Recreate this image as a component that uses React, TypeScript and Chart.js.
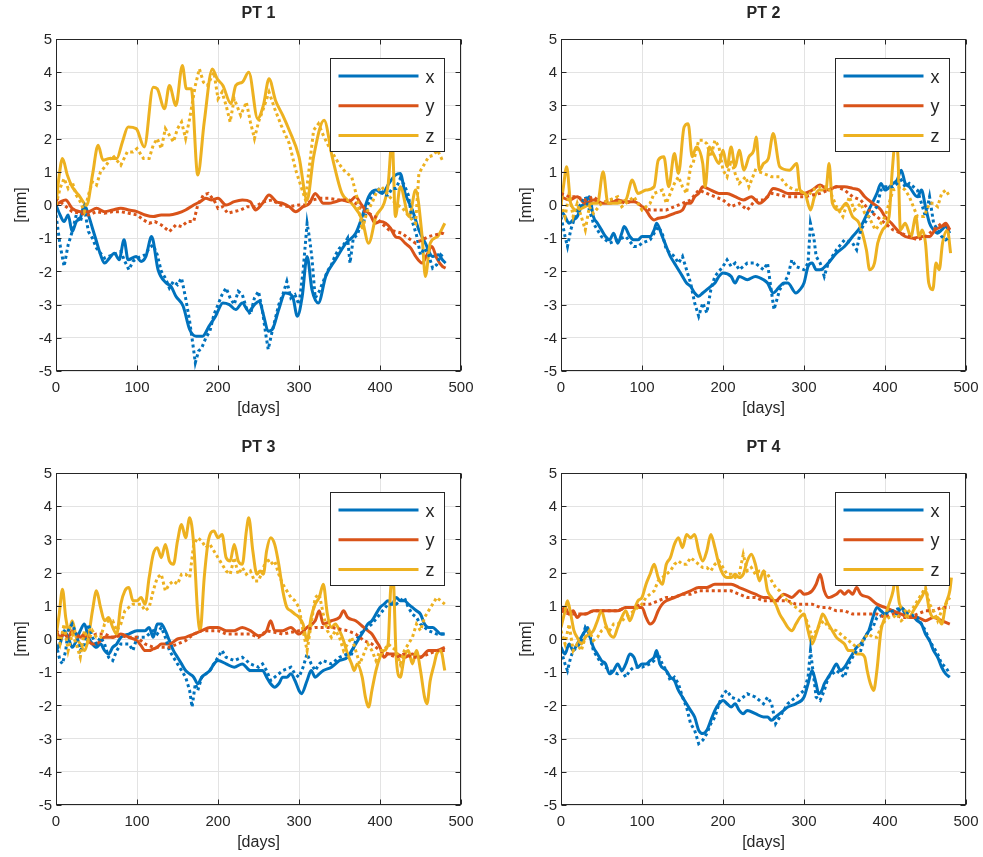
import React, { useEffect, useRef } from "react";
import { Chart, registerables } from "chart.js";

Chart.register(...registerables);

type Pt = [number, number]; // [day, mm]

const DAY_TICKS = [0, 100, 200, 300, 400, 500];
const MM_TICKS = [-5, -4, -3, -2, -1, 0, 1, 2, 3, 4, 5];
const SERIES_NAMES = ["x", "y", "z"];
const SERIES_COLORS = ["#0072BD", "#D95319", "#EDB120"];
const PANEL_TITLES = ["PT 1", "PT 2", "PT 3", "PT 4"];
const X_LABEL = "[days]";
const Y_LABEL = "[mm]";

// ---------- PT 1 ----------
const pt1XSolid: Pt[] = [[0,0.0],[5,-0.3],[10,-0.5],[15,-0.3],[20,-0.8],[25,-0.5],[30,-0.4],[35,0.0],[40,-0.3],[45,-0.7],[50,-1.1],[55,-1.5],[60,-1.75],[66,-1.6],[72,-1.45],[78,-1.65],[84,-1.05],[89,-1.65],[99,-1.55],[105,-1.7],[111,-1.55],[118,-0.95],[126,-1.95],[136,-2.35],[142,-2.45],[148,-2.75],[157,-3.05],[165,-3.75],[173,-3.95],[181,-3.95],[189,-3.65],[197,-3.35],[206,-2.95],[214,-3.0],[222,-3.15],[230,-2.95],[238,-3.2],[245,-3.0],[251,-2.9],[256,-3.3],[262,-3.8],[267,-3.75],[275,-3.15],[283,-2.65],[292,-2.75],[298,-3.35],[304,-2.75],[310,-1.55],[316,-2.55],[324,-2.95],[333,-2.15],[345,-1.65],[358,-1.15],[370,-0.85],[378,-0.35],[386,0.25],[395,0.45],[403,0.35],[411,0.65],[419,0.9],[425,0.95],[431,0.35],[440,-0.15],[448,-0.75],[456,-1.15],[465,-1.55],[472,-1.5],[477,-1.65],[481,-1.75]];
const pt1YSolid: Pt[] = [[0,0.0],[6,0.1],[12,0.15],[20,-0.1],[30,-0.2],[40,-0.2],[50,-0.1],[60,-0.2],[70,-0.15],[80,-0.1],[90,-0.15],[100,-0.2],[110,-0.3],[120,-0.35],[130,-0.3],[140,-0.3],[150,-0.25],[160,-0.15],[170,0.0],[178,0.1],[185,0.2],[192,0.15],[200,0.2],[210,0.0],[220,0.1],[230,0.15],[240,0.1],[246,-0.15],[255,0.05],[263,0.3],[272,0.1],[280,0.05],[288,-0.05],[296,-0.2],[305,-0.05],[313,0.05],[320,0.35],[324,0.25],[330,0.05],[337,0.05],[345,0.1],[353,0.15],[362,0.1],[370,0.25],[376,0.05],[382,-0.15],[388,-0.3],[394,-0.55],[400,-0.5],[407,-0.55],[413,-0.7],[419,-0.95],[425,-1.0],[431,-1.15],[438,-1.3],[444,-1.55],[452,-1.75],[458,-1.5],[464,-1.25],[470,-1.6],[477,-1.85],[481,-1.9]];
const pt1ZSolid: Pt[] = [[0,0.0],[4,0.9],[8,1.4],[14,0.9],[20,0.55],[28,0.3],[38,0.0],[45,0.9],[52,1.8],[58,1.35],[66,1.4],[75,1.4],[82,1.9],[89,2.35],[99,2.3],[109,1.75],[120,3.55],[125,3.5],[134,2.9],[140,3.6],[148,3.0],[156,4.2],[161,3.5],[167,3.5],[175,0.9],[183,2.5],[193,4.1],[199,3.8],[206,3.6],[216,3.05],[222,3.6],[230,3.7],[238,4.0],[249,2.6],[256,3.0],[263,3.8],[271,3.15],[280,2.7],[288,2.25],[300,1.45],[310,0.15],[318,1.45],[331,2.55],[341,1.45],[353,0.35],[365,0.05],[378,-0.45],[386,-1.15],[395,-0.35],[405,0.05],[410,0.6],[415,2.0],[419,-0.35],[425,0.55],[436,-0.35],[444,0.45],[452,-0.95],[456,-2.15],[462,-1.15],[471,-0.95],[480,-0.55]];
const pt1XDotted: Pt[] = [[0,-0.3],[5,-1.2],[10,-1.85],[15,-1.2],[20,-0.8],[25,-0.3],[30,-0.5],[35,-0.1],[40,-0.8],[45,-1.0],[50,-1.3],[55,-1.45],[60,-1.6],[70,-1.5],[80,-1.4],[85,-1.7],[90,-1.95],[95,-1.7],[100,-1.6],[110,-1.5],[115,-1.3],[120,-1.2],[125,-1.5],[130,-2.0],[135,-2.2],[140,-2.5],[145,-2.3],[150,-2.4],[155,-2.2],[160,-2.8],[165,-3.5],[169,-4.2],[172,-4.75],[176,-4.4],[180,-4.3],[185,-4.0],[190,-3.8],[195,-3.3],[200,-3.0],[205,-2.7],[210,-2.5],[215,-2.8],[220,-3.0],[225,-2.6],[230,-2.7],[235,-3.1],[240,-3.3],[245,-2.8],[250,-2.6],[255,-3.2],[259,-3.9],[262,-4.35],[266,-3.9],[270,-3.5],[275,-3.0],[280,-2.7],[285,-2.3],[290,-2.8],[295,-2.7],[300,-3.0],[305,-2.0],[310,-0.55],[313,-1.0],[316,-1.6],[320,-2.8],[325,-2.6],[330,-2.3],[335,-2.0],[340,-1.8],[345,-1.5],[350,-1.3],[355,-1.2],[360,-1.0],[363,-1.75],[367,-1.0],[372,-0.9],[376,-0.6],[380,-0.5],[385,0.0],[390,0.3],[395,0.4],[400,0.5],[405,0.3],[410,0.3],[415,0.5],[420,0.5],[425,0.8],[430,0.6],[435,0.3],[440,-0.5],[445,-0.9],[450,-1.5],[455,-1.3],[460,-1.5],[465,-1.9],[470,-1.8],[475,-1.5],[480,-1.6]];
const pt1YDotted: Pt[] = [[0,0.2],[10,0.0],[20,-0.2],[30,-0.25],[40,-0.3],[50,-0.2],[60,-0.25],[70,-0.2],[80,-0.2],[90,-0.25],[100,-0.3],[108,-0.45],[115,-0.55],[122,-0.5],[130,-0.6],[140,-0.8],[148,-0.6],[155,-0.65],[162,-0.5],[170,-0.5],[175,0.0],[182,0.3],[188,0.35],[195,0.15],[200,-0.1],[206,-0.05],[212,-0.25],[220,-0.2],[228,-0.15],[236,-0.05],[246,-0.05],[256,0.1],[267,0.15],[277,0.0],[288,-0.05],[300,0.0],[308,0.0],[316,0.15],[326,0.2],[337,0.2],[350,0.15],[362,0.15],[370,0.05],[378,-0.15],[386,-0.25],[394,-0.35],[402,-0.55],[411,-0.75],[419,-0.8],[427,-0.85],[435,-1.0],[444,-1.15],[452,-1.05],[460,-0.95],[468,-0.9],[477,-0.85],[481,-0.9]];
const pt1ZDotted: Pt[] = [[0,0.0],[5,0.5],[10,0.8],[15,0.5],[20,0.7],[25,0.3],[30,0.1],[35,-0.2],[40,0.3],[45,0.7],[50,0.6],[55,1.0],[62,1.2],[70,1.5],[80,1.2],[88,1.6],[95,1.6],[100,1.7],[108,1.4],[115,1.4],[120,1.8],[125,2.0],[130,1.7],[135,2.3],[140,2.1],[145,1.9],[150,2.3],[155,2.5],[160,2.0],[165,2.6],[172,3.6],[177,4.1],[182,3.7],[187,3.6],[195,4.0],[200,3.2],[205,3.4],[210,3.0],[215,2.5],[220,3.2],[228,2.7],[235,3.1],[240,2.5],[245,2.0],[250,2.5],[256,2.9],[263,3.4],[270,2.9],[278,2.4],[288,1.85],[296,1.05],[302,0.6],[308,0.15],[313,1.2],[318,2.25],[324,2.45],[330,2.1],[337,1.75],[343,1.5],[349,1.25],[357,1.0],[365,0.85],[372,0.2],[378,-0.75],[384,-0.2],[390,0.05],[396,0.4],[402,0.55],[410,0.3],[419,0.05],[428,-0.1],[436,-0.35],[444,-0.55],[448,0.95],[454,1.2],[460,1.45],[466,1.5],[471,1.65],[476,1.4],[480,1.45]];

// ---------- PT 2 ----------
const pt2XSolid: Pt[] = [[0,-0.15],[5,-0.35],[10,-0.55],[15,-0.45],[20,-0.35],[25,-0.05],[30,0.05],[35,0.25],[40,-0.35],[45,-0.55],[50,-0.75],[55,-0.95],[60,-1.05],[65,-0.85],[70,-1.15],[75,-0.85],[78,-0.65],[85,-0.95],[90,-1.05],[95,-1.05],[100,-0.95],[110,-0.95],[115,-0.75],[118,-0.55],[125,-0.95],[130,-1.25],[135,-1.55],[140,-1.75],[145,-1.95],[150,-2.15],[155,-2.35],[160,-2.45],[165,-2.65],[170,-2.75],[175,-2.65],[180,-2.55],[185,-2.45],[190,-2.35],[195,-2.15],[200,-2.05],[210,-2.15],[215,-2.35],[220,-2.15],[230,-2.25],[240,-2.15],[250,-2.25],[255,-2.35],[262,-2.65],[270,-2.45],[275,-2.35],[280,-2.35],[290,-2.65],[295,-2.55],[300,-2.35],[305,-1.85],[310,-1.75],[315,-1.95],[320,-1.95],[330,-1.75],[340,-1.45],[350,-1.25],[360,-0.95],[370,-0.65],[380,-0.15],[390,0.35],[395,0.65],[400,0.45],[410,0.65],[415,0.75],[420,1.05],[425,0.65],[430,0.55],[440,0.25],[445,0.45],[450,-0.05],[455,-0.55],[460,-0.75],[465,-0.85],[470,-0.75],[475,-0.65],[480,-0.85]];
const pt2YSolid: Pt[] = [[0,0.25],[10,0.15],[20,0.25],[30,0.05],[40,0.15],[50,0.05],[60,0.05],[70,0.15],[80,0.1],[90,0.1],[95,0.05],[100,-0.05],[105,-0.15],[110,-0.35],[115,-0.45],[120,-0.4],[130,-0.35],[140,-0.25],[150,-0.15],[155,0.05],[160,0.05],[165,0.25],[170,0.35],[175,0.55],[185,0.45],[195,0.35],[205,0.35],[215,0.25],[225,0.15],[235,0.25],[245,0.05],[255,0.25],[262,0.5],[270,0.45],[280,0.35],[290,0.35],[300,0.35],[310,0.45],[320,0.6],[330,0.45],[340,0.55],[350,0.55],[360,0.5],[368,0.45],[375,0.25],[385,0.05],[395,-0.15],[400,-0.35],[408,-0.55],[415,-0.75],[425,-0.95],[435,-1.0],[445,-0.95],[455,-0.95],[462,-0.75],[470,-0.65],[475,-0.55],[480,-0.75]];
const pt2ZSolid: Pt[] = [[0,0.0],[3,0.55],[7,1.15],[12,0.05],[20,-0.15],[30,-0.05],[40,0.05],[45,0.05],[52,1.0],[58,0.05],[65,0.05],[80,0.15],[88,0.75],[95,0.35],[105,0.45],[115,0.55],[120,1.35],[127,1.45],[133,0.55],[140,1.55],[145,0.95],[152,2.35],[157,2.45],[162,1.45],[167,1.75],[175,1.25],[178,0.55],[183,1.75],[188,1.55],[195,1.25],[200,1.65],[205,1.15],[210,1.75],[215,1.15],[220,1.65],[226,1.05],[232,1.45],[238,1.65],[241,2.05],[245,1.05],[250,1.25],[256,1.4],[262,2.15],[270,1.15],[282,1.05],[291,1.25],[295,0.45],[301,0.35],[308,-0.15],[313,0.25],[319,0.45],[327,0.45],[331,1.25],[335,0.05],[344,-0.15],[352,0.05],[360,-0.35],[368,-0.55],[377,-1.35],[381,-1.95],[387,-1.75],[391,-1.15],[397,-0.75],[405,-0.35],[409,1.05],[413,1.95],[416,1.45],[419,-0.75],[425,-0.55],[432,-0.95],[438,-0.35],[442,-0.95],[446,-0.75],[450,-1.15],[454,-2.35],[459,-2.55],[463,-1.75],[467,-1.95],[471,-1.15],[477,-0.75],[481,-1.45]];
const pt2XDotted: Pt[] = [[0,-0.35],[5,-0.95],[8,-1.25],[12,-0.75],[20,-0.15],[25,0.05],[30,0.25],[35,-0.15],[40,-0.55],[45,-0.75],[50,-0.95],[60,-1.15],[70,-1.05],[80,-0.95],[90,-1.25],[95,-1.25],[100,-1.15],[110,-1.05],[115,-0.85],[120,-0.65],[125,-0.85],[130,-1.35],[140,-1.55],[145,-1.75],[150,-1.55],[155,-1.95],[160,-2.35],[165,-2.95],[170,-3.35],[175,-2.95],[180,-3.25],[185,-2.55],[190,-2.15],[200,-1.85],[205,-1.65],[210,-1.85],[215,-1.75],[220,-1.95],[230,-1.75],[240,-1.75],[250,-1.95],[255,-1.75],[260,-2.65],[263,-3.15],[270,-2.55],[280,-2.15],[285,-1.65],[290,-1.85],[300,-1.95],[305,-1.75],[308,-0.55],[312,-0.95],[315,-1.55],[320,-1.75],[325,-2.15],[330,-1.75],[340,-1.35],[350,-1.05],[360,-1.15],[365,-1.35],[370,-0.75],[380,-0.35],[390,-0.05],[395,0.45],[400,0.55],[410,0.55],[420,0.75],[425,0.55],[430,0.65],[440,0.45],[445,0.05],[450,-0.35],[455,0.25],[460,-0.55],[465,-0.75],[470,-0.95],[475,-1.05],[480,-0.95]];
const pt2YDotted: Pt[] = [[0,0.35],[10,0.25],[20,0.25],[30,0.15],[40,0.25],[50,0.05],[60,0.15],[70,0.15],[80,0.05],[90,0.15],[100,-0.05],[110,-0.15],[120,-0.15],[130,-0.15],[140,-0.05],[150,0.05],[160,0.15],[170,0.45],[180,0.35],[190,0.25],[200,0.15],[210,-0.05],[220,0.05],[230,-0.15],[240,0.15],[250,0.15],[260,0.35],[280,0.25],[300,0.25],[320,0.35],[340,0.55],[350,0.45],[360,0.25],[370,0.15],[380,-0.15],[390,-0.35],[400,-0.55],[410,-0.75],[420,-0.85],[430,-0.95],[440,-1.05],[450,-0.95],[460,-0.75],[470,-0.55],[480,-0.75]];
const pt2ZDotted: Pt[] = [[0,0.05],[5,-0.35],[10,0.35],[15,-0.35],[20,0.05],[25,-0.35],[30,-0.75],[35,-0.05],[40,-0.25],[50,0.05],[60,0.15],[70,0.25],[75,-0.05],[90,0.25],[100,-0.15],[110,0.05],[115,0.35],[125,0.45],[130,0.05],[140,0.65],[145,0.85],[150,0.55],[155,0.35],[160,1.15],[163,1.25],[170,1.95],[175,1.95],[180,1.85],[185,1.45],[190,1.95],[195,1.75],[200,1.05],[205,0.85],[210,1.35],[215,0.95],[220,0.65],[228,0.85],[232,0.55],[240,1.05],[250,0.95],[260,0.85],[270,0.85],[280,0.55],[290,0.45],[295,0.45],[305,0.25],[310,0.45],[320,0.55],[330,0.55],[335,0.25],[340,-0.05],[348,-0.35],[356,0.25],[362,-0.15],[370,0.05],[375,-0.25],[380,-0.35],[388,-0.75],[395,-0.55],[400,-0.35],[410,0.45],[420,0.55],[425,0.45],[430,0.25],[440,-0.35],[448,-0.35],[455,0.05],[460,0.05],[465,-0.05],[470,0.35],[475,0.45],[480,0.25]];

// ---------- PT 3 ----------
const pt3XSolid: Pt[] = [[0,-0.35],[5,-0.15],[10,0.25],[15,0.05],[20,-0.25],[25,-0.05],[30,0.25],[35,0.45],[40,0.05],[45,-0.15],[50,-0.25],[55,-0.15],[60,-0.35],[65,-0.45],[70,-0.25],[75,-0.15],[80,0.05],[90,0.15],[100,0.25],[110,0.25],[115,0.35],[120,0.05],[125,0.45],[130,0.45],[135,0.25],[140,-0.05],[145,-0.35],[150,-0.55],[155,-0.75],[160,-0.95],[165,-1.05],[170,-1.15],[175,-1.35],[180,-1.15],[185,-1.05],[190,-0.95],[195,-0.75],[200,-0.65],[210,-0.75],[220,-0.85],[230,-0.75],[240,-0.95],[250,-0.95],[255,-0.95],[260,-1.15],[265,-1.35],[270,-1.45],[275,-1.35],[280,-1.15],[285,-1.15],[290,-1.05],[295,-1.25],[300,-1.55],[303,-1.65],[310,-1.25],[315,-0.95],[320,-1.15],[325,-1.05],[330,-0.95],[340,-0.85],[350,-0.65],[360,-0.55],[365,-0.35],[370,-0.15],[375,0.05],[380,0.25],[385,0.45],[390,0.55],[395,0.75],[400,0.95],[405,1.05],[410,1.15],[415,1.05],[420,1.25],[425,1.15],[430,1.15],[435,1.05],[440,0.95],[445,0.85],[450,0.75],[455,0.45],[460,0.35],[465,0.35],[470,0.25],[475,0.15],[480,0.15]];
const pt3YSolid: Pt[] = [[0,0.25],[5,0.05],[10,0.15],[15,0.05],[20,0.25],[25,0.15],[30,0.05],[35,0.15],[40,-0.05],[45,-0.15],[50,-0.15],[55,-0.05],[60,0.05],[70,0.05],[80,0.15],[90,0.05],[100,-0.05],[105,-0.2],[110,-0.35],[115,-0.35],[120,-0.3],[125,-0.25],[130,-0.15],[140,-0.15],[150,0.0],[160,0.05],[170,0.15],[180,0.25],[190,0.35],[200,0.35],[210,0.25],[220,0.25],[230,0.35],[240,0.25],[250,0.1],[260,0.25],[265,0.55],[270,0.25],[280,0.25],[290,0.35],[300,0.15],[310,0.35],[320,0.55],[325,0.85],[330,0.45],[340,0.55],[350,0.65],[355,0.85],[360,0.65],[370,0.55],[380,0.35],[385,0.25],[390,0.15],[395,-0.05],[400,-0.25],[405,-0.55],[410,-0.45],[420,-0.45],[430,-0.55],[440,-0.45],[450,-0.55],[460,-0.35],[470,-0.35],[480,-0.25]];
const pt3ZSolid: Pt[] = [[0,0.05],[4,0.75],[8,1.5],[12,0.65],[16,0.25],[20,0.55],[25,0.05],[30,-0.15],[35,-0.35],[40,0.05],[45,0.85],[50,1.45],[55,0.95],[60,0.55],[65,0.65],[70,0.35],[75,0.15],[80,1.05],[85,1.45],[90,1.55],[95,1.15],[100,1.15],[105,1.25],[110,1.05],[115,1.85],[120,2.55],[125,2.75],[130,2.45],[135,2.85],[140,2.35],[145,2.25],[150,2.95],[155,3.45],[160,3.05],[165,3.65],[170,2.85],[175,0.75],[178,0.25],[183,1.85],[188,2.95],[195,3.25],[200,3.05],[205,3.15],[210,2.45],[215,2.35],[220,2.85],[225,2.35],[230,2.25],[235,3.25],[238,3.65],[243,2.65],[248,1.95],[252,2.05],[256,1.95],[260,2.65],[265,3.05],[270,2.85],[275,2.25],[280,1.45],[285,0.95],[290,0.85],[295,0.75],[300,0.65],[305,0.45],[310,-0.05],[315,0.65],[320,1.05],[325,1.25],[330,1.65],[335,0.75],[340,0.35],[345,0.45],[350,0.25],[355,-0.05],[360,-0.45],[365,-0.75],[368,-0.95],[372,-0.75],[378,-1.15],[382,-1.75],[386,-2.05],[390,-1.55],[395,-0.95],[400,-0.55],[405,-0.35],[410,-0.15],[413,1.45],[416,1.9],[420,-0.55],[425,-1.15],[430,-0.55],[435,-0.35],[440,-0.75],[445,-0.35],[450,-0.95],[455,-1.75],[458,-1.95],[462,-1.25],[467,-0.75],[470,-0.45],[475,-0.35],[480,-0.95]];
const pt3XDotted: Pt[] = [[0,-0.15],[5,-0.65],[8,-0.75],[12,-0.35],[15,0.25],[20,0.45],[25,0.15],[30,-0.35],[35,-0.15],[40,0.45],[45,0.05],[50,-0.15],[55,0.05],[60,-0.15],[65,-0.55],[70,-0.65],[75,-0.35],[80,-0.15],[90,-0.15],[95,-0.35],[100,0.05],[110,0.05],[120,0.25],[125,0.15],[130,0.35],[135,0.05],[140,-0.35],[145,-0.55],[150,-0.75],[155,-0.95],[160,-1.15],[165,-1.55],[168,-2.05],[172,-1.35],[175,-1.55],[180,-1.15],[190,-0.95],[195,-0.75],[200,-0.55],[205,-0.35],[210,-0.55],[220,-0.65],[230,-0.55],[240,-0.75],[250,-0.85],[255,-0.75],[260,-0.95],[265,-1.25],[270,-1.15],[280,-0.95],[290,-0.85],[295,-1.05],[300,-1.15],[305,-0.85],[310,-0.45],[315,-0.75],[320,-0.95],[325,-0.75],[330,-0.65],[340,-0.75],[350,-0.55],[360,-0.45],[365,-0.45],[370,-0.05],[375,0.15],[380,0.25],[390,0.45],[400,0.75],[410,1.05],[420,1.05],[430,1.25],[435,0.95],[440,0.75],[445,0.65],[450,0.45],[455,0.35],[460,0.25],[470,0.15],[480,0.15]];
const pt3YDotted: Pt[] = [[0,0.25],[10,0.05],[20,0.15],[30,0.05],[40,0.05],[50,0.15],[60,0.15],[70,0.05],[80,0.1],[90,0.05],[100,0.05],[110,-0.15],[120,-0.25],[130,-0.25],[140,-0.25],[150,-0.15],[160,-0.05],[170,0.15],[180,0.25],[190,0.25],[200,0.25],[210,0.15],[220,0.15],[230,0.15],[240,0.15],[250,0.05],[260,0.25],[280,0.15],[300,0.25],[320,0.35],[340,0.35],[360,0.25],[370,0.15],[380,-0.05],[390,-0.15],[400,-0.35],[410,-0.45],[420,-0.55],[430,-0.45],[440,-0.55],[450,-0.55],[460,-0.45],[470,-0.35],[480,-0.35]];
const pt3ZDotted: Pt[] = [[0,0.25],[5,-0.15],[10,0.45],[15,-0.35],[20,0.15],[25,-0.15],[30,-0.55],[35,0.25],[40,-0.05],[45,0.25],[50,0.05],[55,0.05],[60,0.45],[65,0.55],[70,0.55],[75,0.25],[80,0.45],[85,0.85],[90,0.95],[95,1.05],[100,1.05],[105,1.05],[110,0.85],[115,0.95],[120,1.45],[125,1.85],[130,1.95],[135,1.45],[140,1.65],[145,1.75],[150,1.65],[155,1.95],[160,1.95],[165,1.85],[170,2.85],[175,3.05],[180,2.95],[185,2.75],[190,2.85],[195,2.65],[200,2.45],[205,2.25],[210,2.05],[215,1.95],[220,2.45],[225,1.95],[230,2.15],[235,1.95],[240,2.05],[245,1.75],[250,1.75],[255,2.05],[260,2.45],[265,2.25],[270,2.35],[275,1.95],[280,1.65],[285,1.45],[290,1.25],[295,1.15],[300,0.95],[305,0.25],[310,-0.35],[315,0.45],[320,1.25],[325,1.35],[330,0.75],[335,0.25],[340,0.05],[345,0.25],[350,0.05],[355,-0.35],[360,-0.15],[365,0.05],[370,-0.35],[375,-0.75],[380,-0.45],[385,-0.15],[390,-0.35],[395,-0.65],[400,-0.35],[405,-0.35],[410,-0.15],[420,-0.35],[425,-0.75],[430,-0.35],[435,-0.15],[440,0.05],[445,0.45],[450,0.25],[455,0.65],[460,0.85],[465,1.05],[470,1.25],[475,1.15],[480,1.05]];

// ---------- PT 4 ----------
const pt4XSolid: Pt[] = [[0,-0.25],[5,-0.45],[10,-0.15],[15,-0.35],[20,-0.15],[25,0.05],[30,0.25],[33,0.35],[35,0.15],[40,-0.25],[45,-0.45],[50,-0.65],[55,-0.75],[60,-1.05],[65,-0.95],[70,-0.75],[75,-0.95],[80,-0.75],[85,-0.45],[90,-0.55],[95,-0.85],[100,-0.75],[105,-0.75],[110,-0.65],[115,-0.55],[118,-0.35],[122,-0.75],[130,-0.95],[135,-1.15],[140,-1.25],[145,-1.55],[150,-1.75],[155,-1.95],[160,-2.15],[165,-2.35],[170,-2.75],[175,-2.85],[180,-2.75],[185,-2.45],[190,-2.15],[195,-1.95],[200,-1.85],[205,-1.95],[210,-2.05],[215,-1.95],[220,-2.15],[225,-2.25],[230,-2.15],[240,-2.25],[250,-2.35],[255,-2.35],[260,-2.45],[265,-2.35],[270,-2.25],[275,-2.15],[280,-2.05],[290,-1.95],[300,-1.75],[305,-1.35],[310,-0.95],[315,-1.35],[318,-1.65],[322,-1.55],[325,-1.35],[330,-1.15],[335,-0.95],[340,-0.75],[345,-0.95],[350,-0.85],[355,-0.65],[360,-0.45],[365,-0.25],[370,-0.15],[375,0.05],[380,0.25],[385,0.65],[390,0.95],[395,0.85],[400,0.75],[405,0.85],[410,0.85],[415,0.75],[420,0.95],[425,0.75],[430,0.65],[435,0.65],[440,0.55],[445,0.45],[450,0.15],[455,-0.05],[460,-0.35],[465,-0.55],[470,-0.85],[475,-1.05],[480,-1.15]];
const pt4YSolid: Pt[] = [[0,0.85],[5,0.95],[10,0.75],[15,0.85],[20,0.65],[25,0.75],[30,0.75],[40,0.85],[50,0.85],[60,0.85],[70,0.85],[80,0.95],[90,0.95],[100,0.95],[105,0.65],[110,0.45],[115,0.55],[120,0.85],[125,1.05],[130,1.15],[140,1.25],[150,1.35],[160,1.45],[170,1.55],[180,1.55],[190,1.65],[200,1.65],[210,1.65],[220,1.55],[230,1.45],[240,1.35],[250,1.25],[255,1.25],[265,1.15],[275,1.35],[285,1.25],[290,1.35],[295,1.45],[300,1.35],[310,1.45],[315,1.65],[320,1.95],[325,1.45],[330,1.25],[340,1.35],[345,1.45],[350,1.35],[355,1.45],[360,1.35],[365,1.55],[370,1.35],[380,1.25],[390,1.05],[400,0.95],[410,0.85],[420,0.75],[430,0.65],[440,0.65],[450,0.55],[460,0.65],[470,0.55],[480,0.45]];
const pt4ZSolid: Pt[] = [[0,0.35],[5,0.85],[8,1.15],[12,0.75],[16,0.25],[20,0.05],[25,-0.15],[30,0.05],[35,0.15],[40,0.25],[45,0.55],[50,0.85],[55,0.45],[60,0.15],[65,0.05],[70,0.35],[75,0.65],[80,0.85],[85,0.55],[90,0.85],[95,1.15],[100,1.25],[105,1.65],[110,1.95],[115,2.25],[120,1.85],[125,1.65],[130,2.25],[135,2.45],[140,2.85],[145,3.05],[150,2.75],[155,3.15],[160,3.05],[165,3.15],[170,2.65],[175,2.35],[180,2.65],[185,3.15],[190,2.75],[195,2.25],[200,1.95],[205,1.85],[210,1.85],[215,1.95],[220,1.85],[225,1.95],[230,2.35],[235,2.55],[240,2.25],[245,1.75],[250,2.05],[255,1.45],[260,1.25],[265,1.05],[270,0.75],[275,0.55],[280,0.35],[285,0.25],[290,0.45],[295,0.65],[300,0.75],[305,0.25],[310,-0.15],[315,0.15],[320,0.55],[323,0.75],[330,0.45],[335,0.25],[340,0.05],[345,-0.05],[350,-0.15],[355,-0.35],[360,-0.35],[365,-0.45],[370,-0.45],[375,-0.55],[378,-0.95],[382,-1.35],[386,-1.55],[390,-0.95],[395,0.25],[400,0.65],[405,1.05],[410,1.45],[413,1.9],[418,1.05],[425,0.85],[430,0.65],[435,0.85],[440,1.05],[445,1.25],[450,1.45],[455,0.85],[460,0.65],[465,0.65],[470,0.45],[475,1.05],[480,1.45],[482,1.85]];
const pt4XDotted: Pt[] = [[0,-0.35],[5,-0.75],[8,-0.95],[12,-0.55],[15,-0.35],[20,-0.25],[25,-0.05],[30,0.35],[35,0.15],[40,-0.35],[50,-0.75],[60,-0.95],[70,-1.05],[75,-0.95],[80,-1.15],[85,-0.95],[90,-0.85],[100,-0.85],[110,-0.75],[115,-0.65],[120,-0.45],[125,-0.75],[130,-0.95],[135,-1.25],[140,-1.15],[145,-1.35],[150,-1.75],[155,-2.05],[160,-2.55],[165,-2.75],[170,-3.15],[175,-3.05],[180,-2.85],[185,-2.55],[190,-2.35],[195,-1.95],[200,-1.65],[205,-1.55],[210,-1.75],[220,-1.85],[230,-1.65],[240,-1.75],[250,-1.95],[255,-1.75],[260,-1.95],[265,-2.55],[270,-2.35],[280,-1.95],[290,-1.75],[300,-1.55],[305,-1.15],[308,-0.35],[312,-1.15],[315,-1.75],[320,-1.85],[325,-1.55],[330,-1.15],[340,-0.95],[350,-1.15],[355,-0.75],[360,-0.55],[365,-0.35],[370,-0.35],[375,0.05],[380,0.25],[385,0.35],[390,0.65],[400,0.75],[410,0.85],[420,0.95],[430,0.75],[440,0.65],[445,0.45],[450,0.25],[455,-0.05],[460,-0.25],[465,-0.45],[470,-0.75],[475,-0.85],[480,-1.05]];
const pt4YDotted: Pt[] = [[0,0.85],[10,0.75],[20,0.75],[30,0.75],[40,0.85],[50,0.85],[60,0.85],[70,0.85],[80,0.95],[90,0.95],[100,1.05],[110,1.05],[120,1.15],[130,1.25],[140,1.25],[150,1.35],[160,1.35],[170,1.45],[180,1.45],[190,1.45],[200,1.45],[210,1.45],[220,1.35],[230,1.25],[240,1.25],[250,1.15],[260,1.15],[270,1.15],[280,1.15],[290,1.05],[300,1.05],[310,1.05],[320,0.95],[330,0.95],[340,0.85],[350,0.85],[360,0.75],[370,0.75],[380,0.75],[390,0.75],[400,0.65],[410,0.75],[420,0.65],[430,0.65],[440,0.75],[450,0.85],[460,0.85],[470,0.95],[480,0.95]];
const pt4ZDotted: Pt[] = [[0,0.25],[5,-0.15],[10,0.45],[15,-0.35],[20,-0.15],[25,-0.35],[30,0.05],[35,0.25],[40,-0.05],[45,0.05],[50,0.25],[55,0.35],[60,0.25],[65,0.45],[70,0.45],[75,0.55],[80,0.65],[85,0.75],[90,0.85],[95,0.95],[100,1.05],[105,1.25],[110,1.35],[115,1.45],[120,1.75],[125,1.85],[130,1.95],[135,2.05],[140,2.25],[145,2.35],[150,2.25],[155,2.25],[160,2.45],[165,2.35],[170,2.25],[175,2.15],[180,2.15],[185,2.05],[190,2.25],[195,2.35],[200,2.15],[205,1.95],[210,1.95],[215,1.85],[220,1.95],[225,2.55],[230,2.05],[235,2.15],[240,1.95],[245,2.05],[250,2.05],[255,1.95],[260,1.75],[265,1.55],[270,1.45],[275,1.25],[280,1.15],[285,1.05],[290,0.95],[295,0.85],[300,0.75],[305,0.45],[310,0.05],[315,0.25],[320,0.45],[325,0.55],[330,0.35],[340,0.25],[345,0.15],[350,0.05],[355,-0.05],[360,-0.15],[365,-0.25],[370,-0.15],[375,0.05],[380,0.15],[385,0.05],[390,0.05],[395,0.35],[400,0.55],[405,0.65],[410,0.65],[415,0.75],[420,0.55],[425,0.65],[430,0.85],[435,0.95],[440,1.15],[445,1.35],[450,1.55],[455,1.05],[460,0.85],[465,0.55],[470,0.85],[475,1.05],[480,1.25]];

const SOLID_SERIES: Pt[][][] = [
  [pt1XSolid, pt1YSolid, pt1ZSolid],
  [pt2XSolid, pt2YSolid, pt2ZSolid],
  [pt3XSolid, pt3YSolid, pt3ZSolid],
  [pt4XSolid, pt4YSolid, pt4ZSolid],
];
const DOTTED_SERIES: Pt[][][] = [
  [pt1XDotted, pt1YDotted, pt1ZDotted],
  [pt2XDotted, pt2YDotted, pt2ZDotted],
  [pt3XDotted, pt3YDotted, pt3ZDotted],
  [pt4XDotted, pt4YDotted, pt4ZDotted],
];

// Panel geometry (px)
const CANVAS_W = 478;
const CANVAS_H = 434;
const AREA = { left: 56, top: 39, right: 461, bottom: 371 };
const PANEL_POS = [
  { left: 0, top: 0 },
  { left: 505, top: 0 },
  { left: 0, top: 434 },
  { left: 505, top: 434 },
];

const FONT = '"Liberation Sans", Arial, Helvetica, sans-serif';
const TEXT_COLOR = "#262626";
const GRID_COLOR = "#e3e3e3";

const axesDecor = {
  id: "axesDecor",
  afterDatasetsDraw(chart: any, _args: any, opts: any) {
    const { ctx, chartArea: a, scales } = chart;
    const xs = scales.x;
    const ys = scales.y;
    ctx.save();

    // axes box
    ctx.strokeStyle = TEXT_COLOR;
    ctx.lineWidth = 1;
    const L = Math.round(a.left) + 0.5;
    const R = Math.round(a.right) - 0.5;
    const T = Math.round(a.top) + 0.5;
    const B = Math.round(a.bottom) - 0.5;
    ctx.strokeRect(L, T, R - L, B - T);

    // inward tick marks on all four sides
    const tl = 5;
    ctx.beginPath();
    DAY_TICKS.forEach((d) => {
      const px = Math.round(xs.getPixelForValue(d)) + 0.5;
      ctx.moveTo(px, B); ctx.lineTo(px, B - tl);
      ctx.moveTo(px, T); ctx.lineTo(px, T + tl);
    });
    MM_TICKS.forEach((v) => {
      const py = Math.round(ys.getPixelForValue(v)) + 0.5;
      ctx.moveTo(L, py); ctx.lineTo(L + tl, py);
      ctx.moveTo(R, py); ctx.lineTo(R - tl, py);
    });
    ctx.stroke();

    // tick labels
    ctx.fillStyle = TEXT_COLOR;
    ctx.font = `15px ${FONT}`;
    ctx.textAlign = "center";
    ctx.textBaseline = "middle";
    DAY_TICKS.forEach((d) => {
      ctx.fillText(String(d), xs.getPixelForValue(d), a.bottom + 17);
    });
    ctx.textAlign = "right";
    MM_TICKS.forEach((v) => {
      ctx.fillText(String(v), a.left - 4, ys.getPixelForValue(v) + 1);
    });

    // title and axis labels
    const cx = (a.left + a.right) / 2;
    ctx.textAlign = "center";
    ctx.font = `bold 16px ${FONT}`;
    ctx.fillText(opts.title, cx, 14);
    ctx.font = `16px ${FONT}`;
    ctx.fillText(X_LABEL, cx, 409);
    ctx.save();
    ctx.translate(22, (a.top + a.bottom) / 2);
    ctx.rotate(-Math.PI / 2);
    ctx.fillText(Y_LABEL, 0, 0);
    ctx.restore();

    // legend (solid lines only)
    const lw = 114, lh = 93;
    const lx = Math.round(a.right) - 17 - lw + 0.5;
    const ly = Math.round(a.top) + 19 + 0.5;
    ctx.fillStyle = "#ffffff";
    ctx.fillRect(lx, ly, lw, lh);
    ctx.strokeStyle = TEXT_COLOR;
    ctx.lineWidth = 1;
    ctx.strokeRect(lx, ly, lw, lh);
    ctx.font = `18px ${FONT}`;
    ctx.textAlign = "left";
    ctx.textBaseline = "alphabetic";
    SERIES_NAMES.forEach((name, i) => {
      const yy = ly + 17.5 + i * 29.7;
      ctx.strokeStyle = SERIES_COLORS[i];
      ctx.lineWidth = 3;
      ctx.beginPath();
      ctx.moveTo(lx + 8, yy);
      ctx.lineTo(lx + 88, yy);
      ctx.stroke();
      ctx.fillStyle = TEXT_COLOR;
      ctx.fillText(name, lx + 95, yy + 6.5);
    });

    ctx.restore();
  },
};

function Panel({ index }: { index: number }) {
  const ref = useRef<HTMLCanvasElement | null>(null);

  useEffect(() => {
    if (!ref.current) return;
    const datasets: any[] = [];
    SOLID_SERIES[index].forEach((pts, i) => {
      datasets.push({
        label: SERIES_NAMES[i],
        data: pts.map(([x, y]) => ({ x, y })),
        borderColor: SERIES_COLORS[i],
        borderWidth: 3,
        pointRadius: 0,
        fill: false,
        cubicInterpolationMode: "monotone",
        borderJoinStyle: "round",
        order: 6 - i,
      });
    });
    DOTTED_SERIES[index].forEach((pts, i) => {
      datasets.push({
        label: SERIES_NAMES[i] + " ·",
        data: pts.map(([x, y]) => ({ x, y })),
        borderColor: SERIES_COLORS[i],
        borderWidth: 3,
        borderDash: [3, 3],
        borderCapStyle: "butt",
        pointRadius: 0,
        fill: false,
        tension: 0,
        order: 3 - i,
      });
    });

    const chart = new Chart(ref.current, {
      type: "line",
      data: { datasets },
      options: {
        animation: false,
        responsive: false,
        devicePixelRatio: 1,
        layout: {
          padding: {
            left: AREA.left,
            top: AREA.top,
            right: CANVAS_W - AREA.right,
            bottom: CANVAS_H - AREA.bottom,
          },
        },
        scales: {
          x: {
            type: "linear",
            min: 0,
            max: 500,
            ticks: { display: false, stepSize: 100 },
            grid: { color: GRID_COLOR, lineWidth: 1, drawTicks: false },
            border: { display: false },
            afterFit: (s: any) => { s.height = 0; },
          },
          y: {
            type: "linear",
            min: -5,
            max: 5,
            ticks: { display: false, stepSize: 1 },
            grid: { color: GRID_COLOR, lineWidth: 1, drawTicks: false },
            border: { display: false },
            afterFit: (s: any) => { s.width = 0; },
          },
        },
        plugins: {
          legend: { display: false },
          tooltip: { enabled: false },
          title: { display: false },
          axesDecor: { title: PANEL_TITLES[index] },
        } as any,
      },
      plugins: [axesDecor],
    } as any);

    return () => chart.destroy();
  }, [index]);

  const pos = PANEL_POS[index];
  return (
    <canvas
      ref={ref}
      width={CANVAS_W}
      height={CANVAS_H}
      style={{ position: "absolute", left: pos.left, top: pos.top, width: CANVAS_W, height: CANVAS_H }}
    />
  );
}

export default function App() {
  return (
    <div
      style={{
        position: "fixed",
        left: 0,
        top: 0,
        width: 983,
        height: 857,
        background: "#ffffff",
        overflow: "hidden",
      }}
    >
      {[0, 1, 2, 3].map((i) => (
        <Panel key={i} index={i} />
      ))}
    </div>
  );
}
